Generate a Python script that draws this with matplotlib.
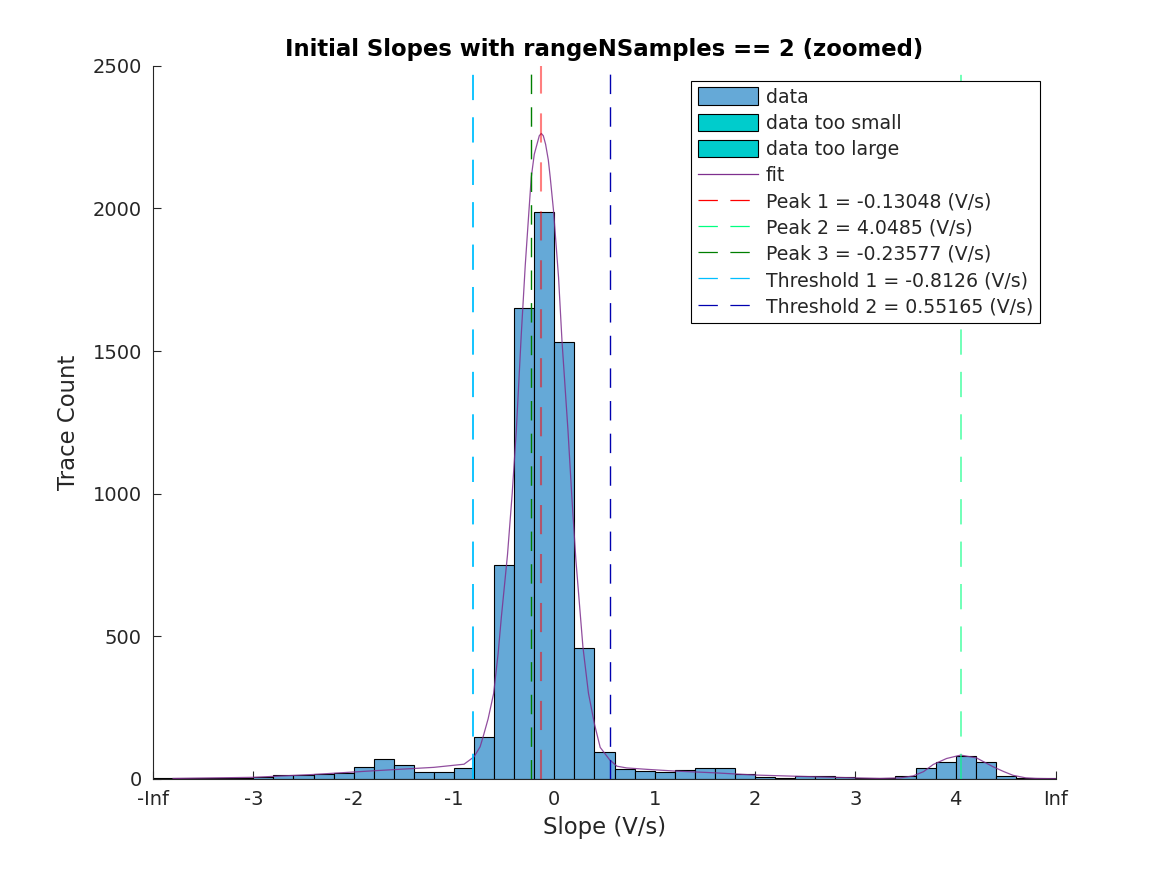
import matplotlib
matplotlib.use("Agg")
import matplotlib.pyplot as plt
from matplotlib.patches import Patch
from matplotlib.lines import Line2D
import numpy as np

# histogram: left bin edges (V/s) and counts, bin width 0.2
bin_left = np.round(np.arange(-4.0, 5.0, 0.2), 2)
counts = [2, 1, 1, 2, 3, 6, 13, 13, 16, 20,
          41, 69, 48, 23, 23, 36, 147, 750, 1651, 1987,
          1532, 459, 95, 34, 27, 23, 30, 37, 37, 16,
          7, 4, 9, 9, 5, 2, 2, 8, 37, 58,
          79, 58, 8, 2, 2]
bin_width = 0.2

# fitted curve
fit_x = [-3.8, -3.4, -3.0, -2.4, -1.8, -1.2, -0.9, -0.8, -0.74, -0.71,
         -0.66, -0.605, -0.56, -0.528, -0.467, -0.42, -0.379, -0.33, -0.29, -0.253,
         -0.23, -0.2, -0.173, -0.15, -0.13, -0.11, -0.087, -0.06, -0.041, -0.008,
         0.042, 0.076, 0.136, 0.175, 0.215, 0.258, 0.285, 0.34, 0.401, 0.457,
         0.55, 0.624, 0.72, 0.922, 1.2, 1.585, 2.0, 2.581, 3.0, 3.245,
         3.45, 3.577, 3.68, 3.776, 3.909, 4.05, 4.208, 4.373, 4.48, 4.572,
         4.7, 4.805, 5.0]
fit_y = [1, 3, 5, 15, 28, 40, 51, 77, 112, 147,
         210, 299, 440, 567, 785, 1000, 1221, 1555, 1800, 1992,
         2109, 2190, 2225, 2255, 2263, 2255, 2225, 2170, 2109, 1992,
         1758, 1537, 1221, 985, 766, 579, 462, 300, 190, 110,
         67, 44, 38, 33, 27, 21, 13, 7, 3, 1,
         3, 10, 25, 50, 71, 83, 73, 42, 25, 12,
         3, 1, 0]

# vertical markers
peak_vals = [-0.13048, 4.0485, -0.23577]
thr_vals = [-0.8126, 0.55165]

x_ticks = [-4, -3, -2, -1, 0, 1, 2, 3, 4, 5]
x_ticklabels = ["-Inf", "-3", "-2", "-1", "0", "1", "2", "3", "4", "Inf"]
y_ticks = [0, 500, 1000, 1500, 2000, 2500]

bar_color = "#65A9D7"
tail_color = "#00CCCC"
fit_color = "#7E2F8E"
dash = (0, (14, 9.5))
leg_dash = (0, (15.5, 10))

fig = plt.figure(figsize=(11.67, 8.75), dpi=100)
ax = fig.add_axes([0.1311, 0.110, 0.7738, 0.8147])

ax.bar(bin_left, counts, width=bin_width, align="edge", color=bar_color,
       edgecolor="black", linewidth=0.8, zorder=2)
ax.plot(fit_x, fit_y, color=fit_color, linewidth=0.9, alpha=0.85, zorder=3)

ax.axvline(peak_vals[0], color="red", alpha=0.5, linestyle=dash, linewidth=1.5, zorder=4)
ax.axvline(peak_vals[1], color="#00FF80", alpha=0.6, linestyle=dash, linewidth=1.3, zorder=4)
ax.axvline(peak_vals[2], color="#007F00", linestyle=dash, linewidth=1.0, zorder=4)
ax.axvline(thr_vals[0], color="#00BFFF", linestyle=dash, linewidth=1.3, zorder=4)
ax.axvline(thr_vals[1], color="#0000B0", linestyle=dash, linewidth=1.0, zorder=4)

ax.set_xlim(-4, 5)
ax.set_ylim(0, 2500)
ax.set_xticks(x_ticks)
ax.set_xticklabels(x_ticklabels)
ax.set_yticks(y_ticks)
ax.tick_params(direction="in", length=6, width=0.8, labelsize=14, colors="#262626")
ax.tick_params(axis="x", pad=8)
ax.tick_params(axis="y", pad=8)
for side in ["top", "right"]:
    ax.spines[side].set_visible(False)
for side in ["left", "bottom"]:
    ax.spines[side].set_linewidth(0.8)
    ax.spines[side].set_color("#262626")

ax.set_xlabel("Slope (V/s)", fontsize=16.4, color="#262626", labelpad=5)
ax.set_ylabel("Trace Count", fontsize=16.4, color="#262626", labelpad=9)
ax.set_title("Initial Slopes with rangeNSamples == 2 (zoomed)", fontsize=16.4,
             fontweight="bold", pad=7)

handles = [
    Patch(facecolor=bar_color, edgecolor="black", linewidth=0.8),
    Patch(facecolor=tail_color, edgecolor="black", linewidth=0.8),
    Patch(facecolor=tail_color, edgecolor="black", linewidth=0.8),
    Line2D([], [], color=fit_color, linewidth=0.9),
    Line2D([], [], color="red", linestyle=leg_dash, linewidth=0.9),
    Line2D([], [], color="#00FF80", linestyle=leg_dash, linewidth=0.9),
    Line2D([], [], color="#007F00", linestyle=leg_dash, linewidth=0.9),
    Line2D([], [], color="#00BFFF", linestyle=leg_dash, linewidth=0.9),
    Line2D([], [], color="#0000B0", linestyle=leg_dash, linewidth=0.9),
]
labels = [
    "data",
    "data too small",
    "data too large",
    "fit",
    f"Peak 1 = {peak_vals[0]} (V/s)",
    f"Peak 2 = {peak_vals[1]} (V/s)",
    f"Peak 3 = {peak_vals[2]} (V/s)",
    f"Threshold 1 = {thr_vals[0]} (V/s)",
    f"Threshold 2 = {thr_vals[1]} (V/s)",
]
leg = ax.legend(handles, labels, loc="upper right", bbox_to_anchor=(0.982, 0.979),
                fontsize=13.6, fancybox=False, framealpha=1, edgecolor="black",
                handlelength=3.2, handleheight=1.05, handletextpad=0.4,
                labelspacing=0.37, borderpad=0.35, borderaxespad=0)
leg.get_frame().set_linewidth(0.8)
for t in leg.get_texts():
    t.set_color("#262626")

fig.savefig("out.png", dpi=100)
